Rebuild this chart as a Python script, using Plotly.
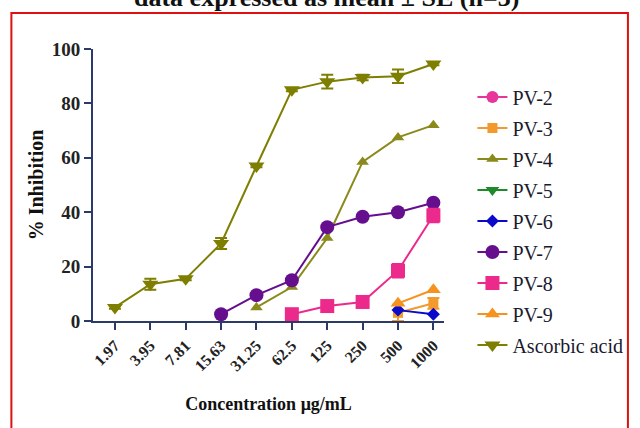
import plotly.graph_objects as go

categories = ["1.97", "3.95", "7.81", "15.63", "31.25", "62.5", "125", "250", "500", "1000"]

pv2 = [None]*10
pv3 = [None, None, None, None, None, None, None, None, 3.0, 6.5]
pv3_err = [0, 0, 0, 0, 0, 0, 0, 0, 3.0, 2.0]
pv4 = [None, None, None, None, 5.0, 12.5, 30.5, 58.5, 67.5, 72.0]
pv5 = [None]*10
pv6 = [None, None, None, None, None, None, None, None, 4.0, 2.5]
pv7 = [None, None, None, 2.5, 9.5, 15.0, 34.5, 38.3, 40.0, 43.5]
pv8 = [None, None, None, None, None, 2.5, 5.5, 7.0, 18.5, 38.8]
pv8_err = [0, 0, 0, 0, 0, 0.5, 0.5, 2.0, 2.5, 2.5]
pv9 = [None, None, None, None, None, None, None, None, 6.5, 11.5]
ascorbic = [5.0, 13.5, 15.5, 28.5, 57.0, 85.0, 88.0, 89.5, 90.0, 94.5]
ascorbic_err = [0.5, 2.0, 0.5, 2.0, 0.5, 0.5, 2.5, 1.0, 2.5, 0.5]

series_names = ["PV-2", "PV-3", "PV-4", "PV-5", "PV-6", "PV-7", "PV-8", "PV-9", "Ascorbic acid"]
series_values = [pv2, pv3, pv4, pv5, pv6, pv7, pv8, pv9, ascorbic]
series_errors = [None, pv3_err, None, None, None, None, pv8_err, None, ascorbic_err]
colors = ["#E8359C", "#F39A2C", "#8A8A1C", "#1F8A2A", "#0A0AC8", "#650E8E", "#EC2A8C", "#F6921E", "#7E7E00"]
symbols = ["circle", "square", "triangle-up", "triangle-down", "diamond", "circle", "square", "triangle-up", "triangle-down"]
sizes = [12, 10, 11, 12, 10, 14, 14, 13, 14]

axis_col = "#2C3A6A"
serif = "Liberation Serif"

fig = go.Figure()
for i, (name, vals, err, col, sym, sz) in enumerate(zip(series_names, series_values, series_errors, colors, symbols, sizes)):
    kw = {}
    if err is not None:
        kw["error_y"] = dict(type="data", array=err, visible=True, color=col, thickness=2, width=6)
    fig.add_trace(go.Scatter(
        x=categories, y=vals, name=name, mode="lines+markers",
        line=dict(color=col, width=2),
        marker=dict(color=col, symbol=sym, size=sz),
        cliponaxis=False, legendgroup=f"g{i}", connectgaps=False, **kw))

fig.update_layout(
    width=640, height=428,
    margin=dict(l=93, r=190, t=49, b=107),
    paper_bgcolor="white", plot_bgcolor="white",
    font=dict(family=serif),
    showlegend=True,
    legend=dict(x=1.081, y=0.895, xanchor="left", yanchor="top",
                font=dict(family=serif, size=20, color="#1a1a2e"),
                tracegroupgap=2, maxheight=340, bgcolor="rgba(0,0,0,0)"),
    xaxis=dict(type="category", categoryorder="array", categoryarray=categories,
               range=[-0.62, 9.3], showgrid=False, zeroline=False,
               showline=True, linecolor=axis_col, linewidth=2,
               ticks="outside", tickcolor=axis_col, tickwidth=2, ticklen=7,
               tickangle=-45,
               tickfont=dict(family=serif, size=16, color="#222", weight="bold"),
               title=dict(text="Concentration μg/mL", font=dict(family=serif, size=18, color="#111", weight="bold"), standoff=24)),
    yaxis=dict(range=[0, 100], tickvals=[0, 20, 40, 60, 80, 100],
               showgrid=False, zeroline=False,
               showline=True, linecolor=axis_col, linewidth=2,
               ticks="outside", tickcolor=axis_col, tickwidth=2, ticklen=7,
               tickfont=dict(family=serif, size=19, color="#222", weight="bold"),
               title=dict(text="% Inhibition", font=dict(family=serif, size=20, color="#111", weight="bold"), standoff=3)),
)

# red frame
fig.add_shape(type="rect", xref="paper", yref="paper",
              x0=-0.2325, x1=1.524, y0=-0.42, y1=1.132,
              line=dict(color="#E01010", width=2), fillcolor="rgba(0,0,0,0)")

fig.add_annotation(text="<b>data expressed as mean ± SE (n=3)</b>", xref="paper", yref="paper",
                   x=0.664, y=1.19, xanchor="center", yanchor="middle", showarrow=False,
                   font=dict(family=serif, size=26, color="#111"))

fig.write_html("out.html", config={"displayModeBar": False},
               post_script="document.body.style.margin='0';")
